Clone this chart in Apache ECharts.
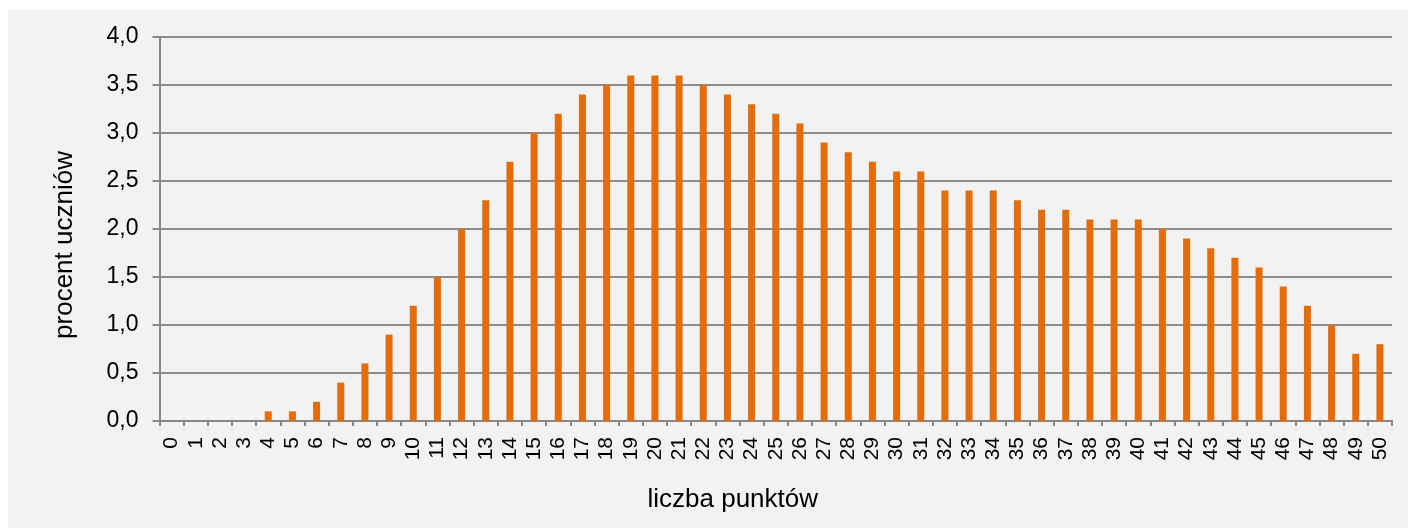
<!DOCTYPE html>
<html>
<head>
<meta charset="utf-8">
<script src="https://cdn.jsdelivr.net/npm/echarts@6/dist/echarts.min.js"></script>
<style>
  html, body { margin: 0; padding: 0; background: #ffffff; width: 1408px; height: 528px; overflow: hidden; }
  #chart { position: absolute; left: 8px; top: 10px; width: 1400px; height: 518px; background: #f2f2f2; }
</style>
</head>
<body>
<div id="chart"></div>
<script>
const categories = ['0','1','2','3','4','5','6','7','8','9','10','11','12','13','14','15','16','17','18','19','20','21','22','23','24','25','26','27','28','29','30','31','32','33','34','35','36','37','38','39','40','41','42','43','44','45','46','47','48','49','50'];
const values = [0, 0, 0, 0, 0.1, 0.1, 0.2, 0.4, 0.6, 0.9, 1.2, 1.5, 2.0, 2.3, 2.7, 3.0, 3.2, 3.4, 3.5, 3.6, 3.6, 3.6, 3.5, 3.4, 3.3, 3.2, 3.1, 2.9, 2.8, 2.7, 2.6, 2.6, 2.4, 2.4, 2.4, 2.3, 2.2, 2.2, 2.1, 2.1, 2.1, 2.0, 1.9, 1.8, 1.7, 1.6, 1.4, 1.2, 1.0, 0.7, 0.8];
const xTitle = 'liczba punktów';
const yTitle = 'procent uczniów';

const chart = echarts.init(document.getElementById('chart'), null, { renderer: 'canvas' });
const font = 'Liberation Sans, Arial, sans-serif';
chart.setOption({
  backgroundColor: '#f2f2f2',
  animation: false,
  grid: { left: 151.5, right: 16, top: 27, bottom: 107, containLabel: false },
  xAxis: {
    type: 'category',
    data: categories,
    boundaryGap: true,
    name: xTitle,
    nameLocation: 'middle',
    nameGap: 66,
    nameTextStyle: { fontFamily: font, fontSize: 26, color: '#000', padding: [0, 86, 0, 0] },
    axisLine: { lineStyle: { color: '#888888', width: 2 } },
    axisTick: { show: true, length: 5, lineStyle: { color: '#888888', width: 2 } },
    axisLabel: { interval: 0, rotate: 90, margin: 16, fontFamily: font, fontSize: 21, color: '#000' }
  },
  yAxis: {
    type: 'value',
    min: 0, max: 4, interval: 0.5,
    name: yTitle,
    nameLocation: 'middle',
    nameGap: 82,
    nameTextStyle: { fontFamily: font, fontSize: 26, color: '#000', padding: [0, 32, 0, 0] },
    axisLine: { show: true, lineStyle: { color: '#888888', width: 2 } },
    axisTick: { show: true, length: 7, lineStyle: { color: '#888888', width: 2 } },
    axisLabel: { margin: 21, fontFamily: font, fontSize: 23, color: '#000',
      formatter: v => v.toFixed(1).replace('.', ',') },
    splitLine: { show: true, lineStyle: { color: '#8c8c8c', width: 2 } }
  },
  series: [{
    type: 'bar',
    data: values,
    barWidth: 7,
    itemStyle: { color: '#E46C0A', borderWidth: 0 }
  }]
});
</script>
</body>
</html>
